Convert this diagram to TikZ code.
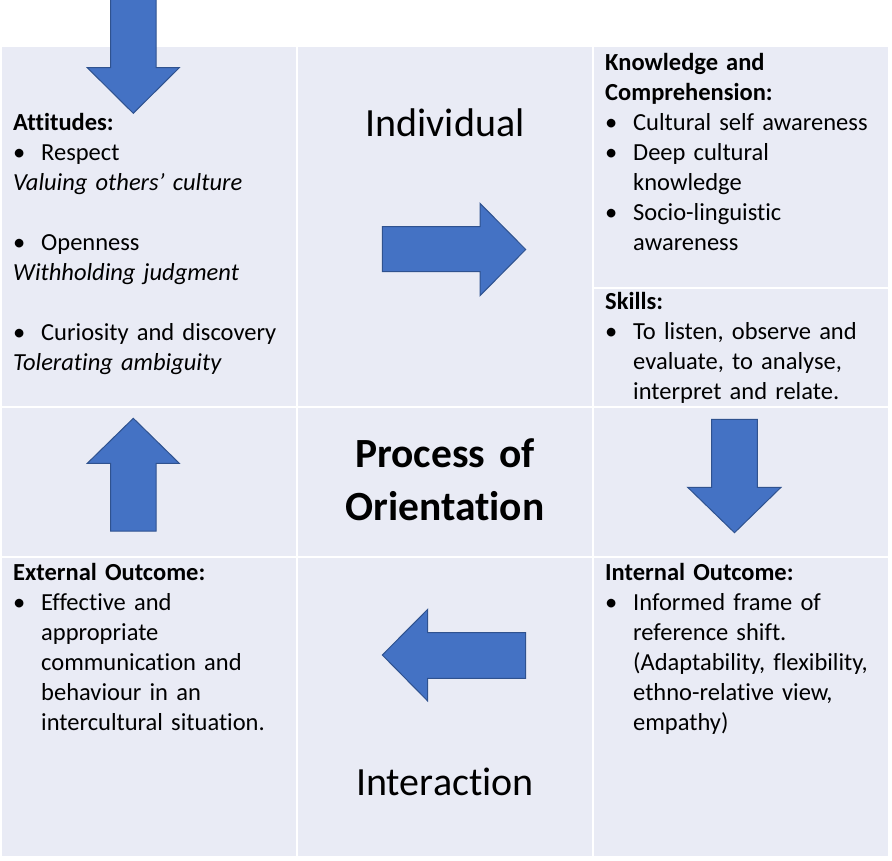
\documentclass[tikz,border=0pt]{standalone}
\usepackage{fontspec}
\setmainfont{Carlito}[Ligatures=NoCommon]
\definecolor{cellbg}{HTML}{E9EBF5}
\definecolor{arrblue}{HTML}{4472C4}
\definecolor{arredge}{HTML}{2F528F}
\newcommand{\itm}{\makebox[28pt][l]{\textbullet}}
\newcommand{\ind}{\hspace*{28pt}}
\begin{document}
\begin{tikzpicture}[x=1pt, y=-1pt,
    cell/.style = {fill=cellbg},
    blockarrow/.style = {fill=arrblue, draw=arredge, line width=1pt, line join=miter},
    txt/.style = {inner sep=0pt, anchor=base west, text width=285pt, align=left,
                  font=\fontsize{24.5}{30}\selectfont},
    title/.style = {inner sep=0pt, anchor=base, text width=280pt, align=center,
                    font=\fontsize{40}{45}\selectfont}]
        \useasboundingbox (0,0) rectangle (892,860);
        % cells
        \fill[cell] (2,47) rectangle (296,406);
        \fill[cell] (298,47) rectangle (592,406);
        \fill[cell] (594,47) rectangle (888,286.5);
        \fill[cell] (594,289) rectangle (888,406);
        \foreach \xa/\xb in {2/296, 298/592, 594/888}{
            \fill[cell] (\xa,408) rectangle (\xb,556);
            \fill[cell] (\xa,558) rectangle (\xb,856);
        }
        % arrows
        \draw[blockarrow] (110.7,-3) -- (156,-3) -- (156,67.7) -- (179.3,67.7) -- (133.3,113.3) -- (87.3,67.7) -- (110.7,67.7) -- cycle;
        \draw[blockarrow] (382.3,226.7) -- (480,226.7) -- (480,203.3) -- (525.7,249.5) -- (480,295.7) -- (480,271.7) -- (382.3,271.7) -- cycle;
        \draw[blockarrow] (711.7,419.3) -- (757.3,419.3) -- (757.3,487.3) -- (781,487.3) -- (734.5,532.7) -- (687.7,487.3) -- (711.7,487.3) -- cycle;
        \draw[blockarrow] (133.3,418.3) -- (179.3,463.3) -- (156,463.3) -- (156,531) -- (110.7,531) -- (110.7,463.3) -- (87.3,463.3) -- cycle;
        \draw[blockarrow] (382.3,655) -- (427.7,609.3) -- (427.7,632.7) -- (525.7,632.7) -- (525.7,678.3) -- (427.7,678.3) -- (427.7,701) -- cycle;
        % titles
        \node[title] (individual) at (445,136) {Individual};
        \node[title, font=\fontsize{41.5}{53}\selectfont\bfseries] (process) at (445,467) {Process of\\Orientation};
        \node[title] (interaction) at (445,795) {Interaction};
        % texts
        \node[txt] (attitudes) at (13,130) {\textbf{Attitudes:}\\
            \itm Respect\\
            \textit{Valuing others’ culture}\\[30pt]
            \itm Openness\\
            \textit{Withholding judgment}\\[30pt]
            \itm Curiosity and discovery\\
            \textit{Tolerating ambiguity}};
        \node[txt] (knowledge) at (605,70) {\textbf{Knowledge and}\\
            \textbf{Comprehension:}\\
            \itm Cultural self awareness\\
            \itm Deep cultural\\
            \ind knowledge\\
            \itm Socio-linguistic\\
            \ind awareness};
        \node[txt] (skills) at (605,309) {\textbf{Skills:}\\
            \itm To listen, observe and\\
            \ind evaluate, to analyse,\\
            \ind interpret and relate.};
        \node[txt] (external) at (13,580) {\textbf{External Outcome:}\\
            \itm Effective and\\
            \ind appropriate\\
            \ind communication and\\
            \ind behaviour in an\\
            \ind intercultural situation.};
        \node[txt] (internal) at (605,580) {\textbf{Internal Outcome:}\\
            \itm Informed frame of\\
            \ind reference shift.\\
            \ind (Adaptability, flexibility,\\
            \ind ethno-relative view,\\
            \ind empathy)};
    \end{tikzpicture}
\end{document}
